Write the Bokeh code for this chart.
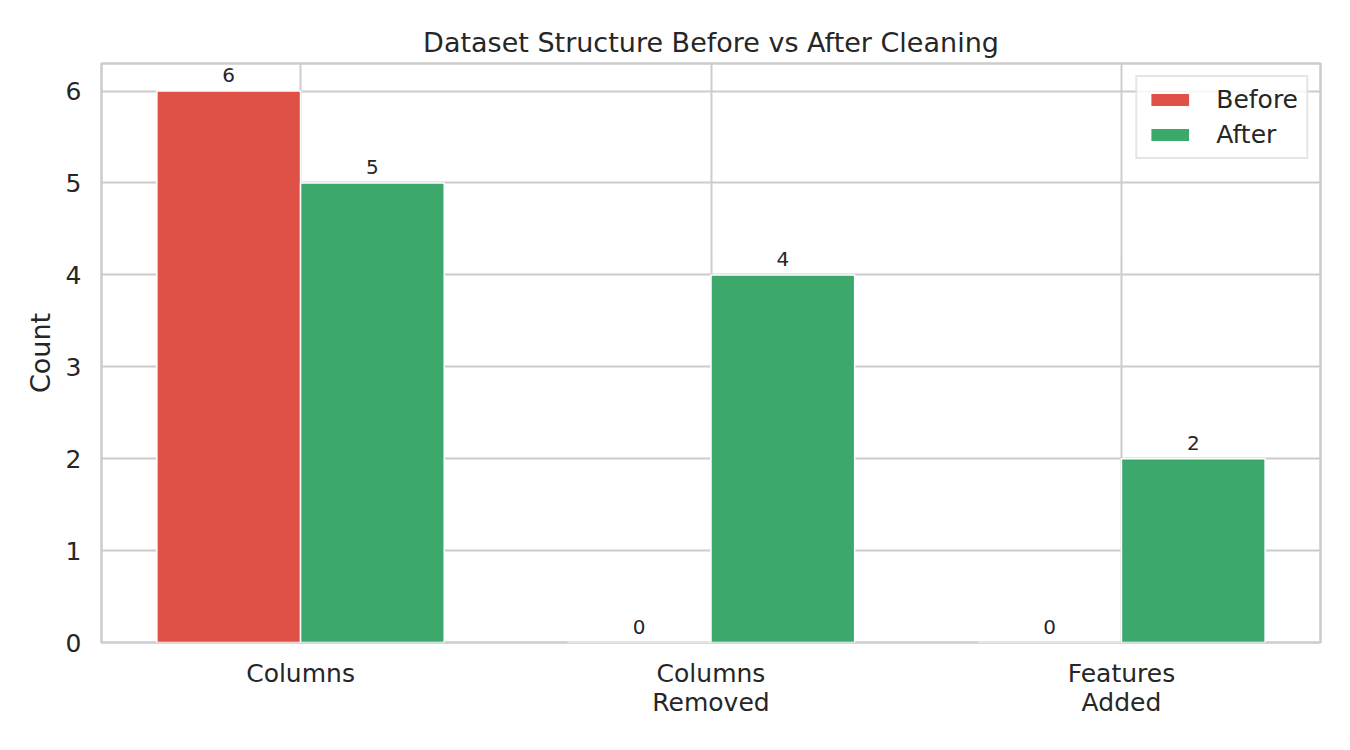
from bokeh.plotting import figure
from bokeh.models import ColumnDataSource, FixedTicker, Legend, LegendItem, Range1d
from bokeh.embed import file_html
from bokeh.resources import INLINE
from bokeh.core.properties import value

categories = ["Columns", "Columns\nRemoved", "Features\nAdded"]
before = [6, 0, 0]
after = [5, 4, 2]
y_ticks = [0, 1, 2, 3, 4, 5, 6]

RED = "#df5047"
GREEN = "#3da86b"
TXT = "#262626"
GRID = "#cccccc"
FONT = "DejaVu Sans"
W = 0.35

idx = list(range(len(categories)))
src_b = ColumnDataSource(dict(x=[i - W / 2 for i in idx], top=before,
                              lab=[str(v) for v in before]))
src_a = ColumnDataSource(dict(x=[i + W / 2 for i in idx], top=after,
                              lab=[str(v) for v in after]))

p = figure(width=1350, height=750, output_backend="svg", toolbar_location=None,
           x_range=Range1d(-0.485, 2.485), y_range=Range1d(0, 6.3),
           min_border_left=101, min_border_right=30, min_border_top=63, min_border_bottom=108,
           title="Dataset Structure Before vs After Cleaning")

p.title.align = "center"
p.title.text_font = FONT
p.title.text_font_size = "27px"
p.title.text_font_style = "normal"
p.title.text_color = TXT
p.title.standoff = 12

rb = p.vbar(x="x", top="top", width=W, bottom=0, source=src_b, fill_color=RED,
            line_color="white", line_width=1.5)
ra = p.vbar(x="x", top="top", width=W, bottom=0, source=src_a, fill_color=GREEN,
            line_color="white", line_width=1.5)

for s in (src_b, src_a):
    p.text(x="x", y="top", text="lab", source=s, text_align="center",
           text_baseline="bottom", y_offset=-9, text_font=value(FONT),
           text_font_size="20px", text_color=TXT)

p.xaxis.ticker = FixedTicker(ticks=idx)
p.xaxis.major_label_overrides = {i: c for i, c in zip(idx, categories)}
p.yaxis.ticker = FixedTicker(ticks=y_ticks)

for ax in (p.xaxis, p.yaxis):
    ax.axis_line_color = None
    ax.major_tick_line_color = None
    ax.minor_tick_line_color = None
    ax.major_tick_out = 0
    ax.major_tick_in = 0
    ax.major_label_text_font = FONT
    ax.major_label_text_font_size = "25px"
    ax.major_label_text_color = TXT
    ax.axis_label_text_font = FONT
    ax.axis_label_text_font_style = "normal"
    ax.axis_label_text_color = TXT
    ax.axis_label_text_font_size = "27px"

p.xaxis.major_label_text_line_height = 1.0
p.xaxis.major_label_standoff = 16
p.yaxis.major_label_standoff = 20
p.yaxis.axis_label = "Count"
p.yaxis.axis_label_standoff = 7

p.xgrid.grid_line_color = GRID
p.ygrid.grid_line_color = GRID
p.xgrid.grid_line_width = 2
p.ygrid.grid_line_width = 2
p.outline_line_color = GRID
p.outline_line_width = 2.5
p.background_fill_color = "white"
p.border_fill_color = "white"

legend = Legend(items=[LegendItem(label="Before", renderers=[rb]),
                       LegendItem(label="After", renderers=[ra])],
                location="top_right")
legend.label_text_font = FONT
legend.label_text_font_size = "25px"
legend.label_text_color = TXT
legend.glyph_width = 49
legend.glyph_height = 17
legend.label_standoff = 22
legend.label_height = 20
legend.spacing = 6
legend.padding = 8
legend.margin = 12
legend.border_line_color = GRID
legend.border_line_width = 2
legend.background_fill_alpha = 0.8
p.add_layout(legend)

open("out.html", "w").write(file_html(p, INLINE))
